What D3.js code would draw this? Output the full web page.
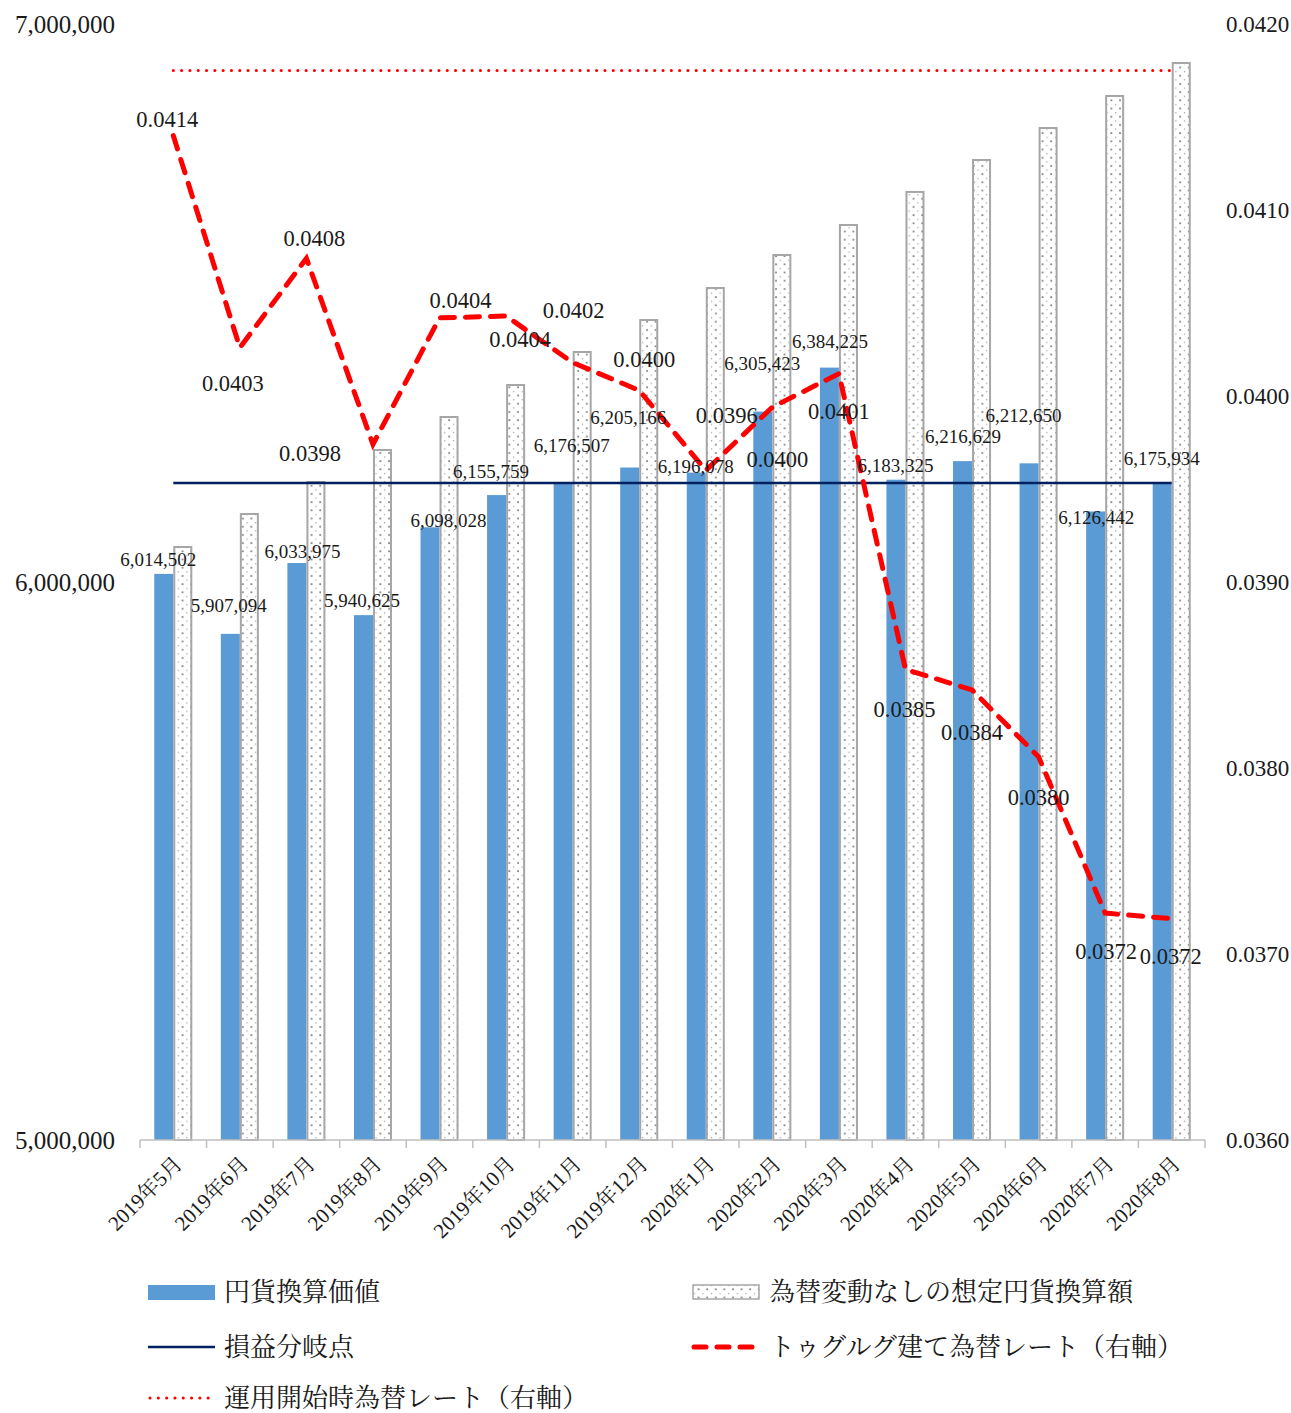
<!DOCTYPE html>
<html>
<head>
<meta charset="utf-8">
<script src="https://cdn.jsdelivr.net/npm/d3@7"></script>
<style>
  body { margin: 0; background: #fff; }
  text { font-family: "Liberation Serif", "Noto Serif CJK JP", "Noto Sans CJK JP", serif; fill: #1a1a1a; }
</style>
</head>
<body>
<div id="chart"></div>
<script>
// data
const categories = ['2019年5月', '2019年6月', '2019年7月', '2019年8月', '2019年9月', '2019年10月',
  '2019年11月', '2019年12月', '2020年1月', '2020年2月', '2020年3月', '2020年4月',
  '2020年5月', '2020年6月', '2020年7月', '2020年8月']
const yenValue = [6014502, 5907094, 6033975, 5940625, 6098028, 6155759, 6176507, 6205166,
  6196078, 6305423, 6384225, 6183325, 6216629, 6212650, 6126442, 6175934]
const noFxChange = [6062700, 6121900, 6179200, 6236600, 6295700, 6353000, 6412200, 6469500,
  6526900, 6586000, 6639800, 6699000, 6756300, 6813600, 6871000, 6930100]
const tugrikRate = [0.04140, 0.04026, 0.04074, 0.03974, 0.04042, 0.04043, 0.04018, 0.04003,
  0.03960, 0.03994, 0.04012, 0.03853, 0.03842, 0.03806, 0.03722, 0.03719]
const rateLabels = ['0.0414', '0.0403', '0.0408', '0.0398', '0.0404', '0.0404', '0.0402', '0.0400',
  '0.0396', '0.0400', '0.0401', '0.0385', '0.0384', '0.0380', '0.0372', '0.0372']
const breakEven = 6177400
const startRate = 0.04175
const leftTicks = [5000000, 6000000, 7000000]
const rightTicks = [0.036, 0.037, 0.038, 0.039, 0.040, 0.041, 0.042]

// label nudges (px) as placed in the original
const barLabelOffset = [[-15, -15], [-11, -28], [-4, -12], [-11, -15], [9, -7], [-15, -24], [-1, -38], [-11, -50],
  [-10, -6], [-10, -48], [-9, -26], [-10, -14], [-9, -25], [-15, -48], [-9, 6], [-10, -25]]
const rateLabelOffset = [[-6, -16], [-7, 35], [8, -20], [-63, 9], [21, -18], [14, 23], [1, -52], [5, -31],
  [21, -55], [5, 52], [0, 37], [-1, 40], [0, 42], [0, 40], [1, 38], [-1, 37]]

const width = 1291
const height = 1413
const plotLeft = 140, plotRight = 1205, plotTop = 24, plotBottom = 1140

const svg = d3.select('#chart').append('svg')
  .attr('width', width)
  .attr('height', height)

const defs = svg.append('defs')
const pat = defs.append('pattern')
  .attr('id', 'dots')
  .attr('patternUnits', 'userSpaceOnUse')
  .attr('width', 8.6)
  .attr('height', 8.2)
pat.append('rect').attr('width', 8.6).attr('height', 8.2).attr('fill', '#fff')
pat.append('circle').attr('cx', 2).attr('cy', 2).attr('r', 1).attr('fill', '#808080')
pat.append('circle').attr('cx', 6.3).attr('cy', 6.1).attr('r', 0.7).attr('fill', '#9a9a9a')

const x = d3.scaleBand().domain(categories).range([plotLeft, plotRight]).padding(0)
const sub = d3.scaleBand().domain(['yen', 'nofx']).range([0, x.bandwidth()]).paddingOuter(0.75)
const y = d3.scaleLinear().domain([5000000, 7000000]).range([plotBottom, plotTop])
const yR = d3.scaleLinear().domain([0.036, 0.042]).range([plotBottom, plotTop])
const cx = d => x(d) + x.bandwidth() / 2

// bars
svg.append('g').selectAll('rect')
  .data(categories)
  .enter()
  .append('rect')
  .attr('x', d => x(d) + sub('yen'))
  .attr('y', (d, i) => y(yenValue[i]))
  .attr('width', sub.bandwidth())
  .attr('height', (d, i) => plotBottom - y(yenValue[i]))
  .attr('fill', '#5b9bd5')

svg.append('g').selectAll('rect')
  .data(categories)
  .enter()
  .append('rect')
  .attr('x', d => x(d) + sub('nofx') + 1)
  .attr('y', (d, i) => y(noFxChange[i]))
  .attr('width', sub.bandwidth() - 2)
  .attr('height', (d, i) => plotBottom - y(noFxChange[i]))
  .attr('fill', 'url(#dots)')
  .attr('stroke', '#a6a6a6')
  .attr('stroke-width', 2)

// x axis with ticks on band edges
const xAxis = svg.append('g')
xAxis.append('line')
  .attr('x1', plotLeft).attr('x2', plotRight)
  .attr('y1', plotBottom).attr('y2', plotBottom)
  .attr('stroke', '#bfbfbf').attr('stroke-width', 1.5)
xAxis.selectAll('.tk')
  .data(categories.map(d => x(d)).concat([plotRight]))
  .enter()
  .append('line')
  .attr('x1', d => d).attr('x2', d => d)
  .attr('y1', plotBottom).attr('y2', plotBottom + 8)
  .attr('stroke', '#bfbfbf').attr('stroke-width', 1.5)
xAxis.selectAll('text')
  .data(categories)
  .enter()
  .append('text')
  .attr('transform', d => `translate(${cx(d) + 5}, ${plotBottom + 20}) rotate(-45)`)
  .attr('text-anchor', 'end')
  .attr('dy', '0.35em')
  .attr('font-size', 21)
  .text(d => d)

// left axis
svg.append('g')
  .attr('transform', `translate(${plotLeft}, 0)`)
  .call(d3.axisLeft(y).tickValues(leftTicks).tickSize(0).tickPadding(25).tickFormat(d3.format(',')))
  .call(g => g.select('.domain').remove())
  .selectAll('text')
  .attr('font-size', 25)
  .attr('font-family', null)

// right axis
svg.append('g')
  .attr('transform', `translate(${plotRight}, 0)`)
  .call(d3.axisRight(yR).tickValues(rightTicks).tickSize(0).tickPadding(21).tickFormat(d3.format('.4f')))
  .call(g => g.select('.domain').remove())
  .selectAll('text')
  .attr('font-size', 23)
  .attr('font-family', null)

// break-even line
svg.append('line')
  .attr('x1', cx(categories[0])).attr('x2', cx(categories[categories.length - 1]))
  .attr('y1', y(breakEven)).attr('y2', y(breakEven))
  .attr('stroke', '#002060').attr('stroke-width', 2.5)

// starting rate line
svg.append('line')
  .attr('x1', cx(categories[0])).attr('x2', cx(categories[categories.length - 1]))
  .attr('y1', yR(startRate)).attr('y2', yR(startRate))
  .attr('stroke', '#ff0000').attr('stroke-width', 3)
  .attr('stroke-linecap', 'round')
  .attr('stroke-dasharray', '0.1 8.2')

// tugrik rate line
const line = d3.line()
  .x((d, i) => cx(categories[i]))
  .y(d => yR(d))
svg.append('path')
  .datum(tugrikRate)
  .attr('d', line)
  .attr('fill', 'none')
  .attr('stroke', '#ff0000')
  .attr('stroke-width', 5)
  .attr('stroke-linecap', 'round')
  .attr('stroke-dasharray', '14 11')

// bar labels
svg.append('g').selectAll('text')
  .data(categories)
  .enter()
  .append('text')
  .attr('x', (d, i) => cx(d) + barLabelOffset[i][0])
  .attr('y', (d, i) => y(yenValue[i]) + barLabelOffset[i][1])
  .attr('dy', '0.35em')
  .attr('text-anchor', 'middle')
  .attr('font-size', 19)
  .text((d, i) => d3.format(',')(yenValue[i]))

// rate labels
svg.append('g').selectAll('text')
  .data(categories)
  .enter()
  .append('text')
  .attr('x', (d, i) => cx(d) + rateLabelOffset[i][0])
  .attr('y', (d, i) => yR(tugrikRate[i]) + rateLabelOffset[i][1])
  .attr('dy', '0.35em')
  .attr('text-anchor', 'middle')
  .attr('font-size', 22.5)
  .text((d, i) => rateLabels[i])

// legend
const legend = svg.append('g').attr('font-size', 26)
const rows = [1292, 1347, 1398]
legend.append('rect')
  .attr('x', 148).attr('y', rows[0] - 7).attr('width', 67).attr('height', 15)
  .attr('fill', '#5b9bd5')
legend.append('text').attr('x', 224).attr('y', rows[0]).attr('dy', '0.35em').text('円貨換算価値')

legend.append('rect')
  .attr('x', 693).attr('y', rows[0] - 7).attr('width', 66).attr('height', 14)
  .attr('fill', 'url(#dots)').attr('stroke', '#a6a6a6').attr('stroke-width', 1.5)
legend.append('text').attr('x', 769).attr('y', rows[0]).attr('dy', '0.35em').text('為替変動なしの想定円貨換算額')

legend.append('line')
  .attr('x1', 148).attr('x2', 215).attr('y1', rows[1]).attr('y2', rows[1])
  .attr('stroke', '#002060').attr('stroke-width', 2.5)
legend.append('text').attr('x', 224).attr('y', rows[1]).attr('dy', '0.35em').text('損益分岐点')

legend.append('line')
  .attr('x1', 694).attr('x2', 755).attr('y1', rows[1]).attr('y2', rows[1])
  .attr('stroke', '#ff0000').attr('stroke-width', 5)
  .attr('stroke-linecap', 'round')
  .attr('stroke-dasharray', '12 11')
legend.append('text').attr('x', 769).attr('y', rows[1]).attr('dy', '0.35em').text('トゥグルグ建て為替レート（右軸）')

legend.append('line')
  .attr('x1', 150).attr('x2', 215).attr('y1', rows[2]).attr('y2', rows[2])
  .attr('stroke', '#ff0000').attr('stroke-width', 3)
  .attr('stroke-linecap', 'round')
  .attr('stroke-dasharray', '0.1 8.2')
legend.append('text').attr('x', 224).attr('y', rows[2]).attr('dy', '0.35em').text('運用開始時為替レート（右軸）')
</script>
</body>
</html>
